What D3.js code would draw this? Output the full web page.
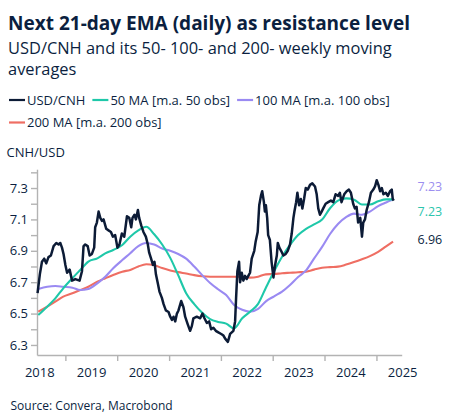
<!DOCTYPE html>
<html>
<head>
<meta charset="utf-8">
<script src="https://cdn.jsdelivr.net/npm/d3@7"></script>
<style>
  html, body { margin: 0; padding: 0; background: #fff; }
  svg { display: block; font-family: "Open Sans", "Noto Sans", sans-serif; }
</style>
</head>
<body>
<svg id="chart" width="453" height="417"></svg>
<script>
(function () {
  'use strict';

  // ── Data ─────────────────────────────────────────────────────────────────
  var usdcnhDates = [
    '2018-06-19','2018-07-05','2018-07-20','2018-08-05','2018-08-19','2018-09-04','2018-09-21','2018-10-10',
    '2018-10-29','2018-11-14','2018-11-26','2018-12-08','2018-12-19','2019-01-01','2019-01-13','2019-01-31',
    '2019-02-17','2019-03-12','2019-04-11','2019-04-28','2019-05-09','2019-05-21','2019-06-07','2019-06-21',
    '2019-07-07','2019-07-23','2019-07-30','2019-08-11','2019-08-23','2019-09-04','2019-09-16','2019-09-27',
    '2019-10-16','2019-11-01','2019-11-18','2019-12-02','2019-12-18','2020-01-03','2020-01-17','2020-02-03',
    '2020-02-20','2020-03-10','2020-03-26','2020-04-09','2020-04-18','2020-05-02','2020-05-12','2020-05-26',
    '2020-06-04','2020-06-19','2020-07-04','2020-07-21','2020-08-04','2020-08-13','2020-08-27','2020-09-09',
    '2020-09-20','2020-09-30','2020-10-14','2020-10-25','2020-11-11','2020-11-23','2020-12-09','2020-12-28',
    '2021-01-09','2021-01-21','2021-02-01','2021-02-13','2021-02-25','2021-03-08','2021-03-27','2021-04-12',
    '2021-04-24','2021-05-13','2021-05-29','2021-06-10','2021-06-21','2021-07-15','2021-08-08','2021-08-24',
    '2021-09-07','2021-09-24','2021-10-10','2021-10-24','2021-11-09','2021-11-26','2021-12-14','2022-01-03',
    '2022-01-19','2022-01-31','2022-02-19','2022-03-07','2022-03-30','2022-04-11','2022-04-18','2022-04-27',
    '2022-05-09','2022-05-16','2022-05-28','2022-06-08','2022-06-20','2022-07-02','2022-07-13','2022-07-25',
    '2022-08-06','2022-08-24','2022-09-03','2022-09-17','2022-09-28','2022-10-10','2022-10-19','2022-10-31',
    '2022-11-07','2022-11-14','2022-11-23','2022-11-30','2022-12-12','2022-12-24','2023-01-06','2023-01-18',
    '2023-01-30','2023-02-06','2023-02-17','2023-03-01','2023-03-17','2023-04-03','2023-04-17','2023-05-03',
    '2023-05-15','2023-05-27','2023-06-03','2023-06-15','2023-06-24','2023-07-06','2023-07-18','2023-07-29',
    '2023-08-10','2023-08-22','2023-09-05','2023-09-21','2023-10-07','2023-10-26','2023-11-07','2023-11-18',
    '2023-11-30','2023-12-12','2023-12-23','2024-01-09','2024-01-27','2024-02-15','2024-03-03','2024-03-19',
    '2024-04-06','2024-04-18','2024-04-30','2024-05-19','2024-06-05','2024-06-21','2024-07-05','2024-07-21',
    '2024-08-02','2024-08-14','2024-08-25','2024-09-09','2024-09-21','2024-09-30','2024-10-12','2024-10-24',
    '2024-11-09','2024-11-23','2024-12-10','2024-12-22','2025-01-03','2025-01-15','2025-01-27','2025-02-08',
    '2025-02-19','2025-03-08','2025-03-22','2025-04-07','2025-04-19','2025-04-26','2025-05-03'
  ];
  var usdcnhValues = [
    6.63, 6.75, 6.83, 6.85, 6.82, 6.86, 6.87, 6.93,
    6.95, 6.94, 6.95, 6.92, 6.88, 6.81, 6.76, 6.78,
    6.71, 6.72, 6.71, 6.77, 6.93, 6.94, 6.93, 6.87,
    6.88, 6.92, 7.05, 7.08, 7.15, 7.11, 7.09, 7.10,
    7.04, 7.03, 7.02, 6.99, 7.00, 6.92, 6.94, 7.01,
    6.99, 7.12, 7.11, 7.05, 7.11, 7.13, 7.10, 7.16,
    7.11, 7.06, 7.02, 6.99, 6.94, 6.89, 6.85, 6.81,
    6.83, 6.75, 6.69, 6.64, 6.60, 6.56, 6.52, 6.51,
    6.48, 6.46, 6.48, 6.45, 6.50, 6.52, 6.58, 6.54,
    6.48, 6.43, 6.39, 6.42, 6.47, 6.48, 6.47, 6.50,
    6.47, 6.44, 6.45, 6.40, 6.41, 6.39, 6.38, 6.37,
    6.36, 6.34, 6.32, 6.37, 6.39, 6.45, 6.60, 6.77,
    6.83, 6.70, 6.76, 6.71, 6.74, 6.72, 6.74, 6.76,
    6.85, 6.90, 6.96, 7.02, 7.19, 7.25, 7.28, 7.21,
    7.15, 7.19, 7.11, 7.00, 6.97, 6.83, 6.73, 6.81,
    6.87, 6.95, 6.92, 6.90, 6.87, 6.88, 6.90, 6.94,
    7.01, 7.11, 7.15, 7.21, 7.27, 7.19, 7.23, 7.17,
    7.23, 7.30, 7.29, 7.32, 7.33, 7.31, 7.26, 7.17,
    7.13, 7.15, 7.17, 7.20, 7.21, 7.22, 7.21, 7.26,
    7.25, 7.27, 7.21, 7.26, 7.28, 7.29, 7.27, 7.20,
    7.17, 7.18, 7.08, 7.11, 6.99, 7.08, 7.10, 7.16,
    7.21, 7.27, 7.29, 7.31, 7.35, 7.32, 7.28, 7.30,
    7.26, 7.27, 7.25, 7.28, 7.29, 7.23, 7.22
  ];

  // moving averages share one set of dates
  var maDates = [
    '2018-06-24','2018-08-26','2018-10-22','2018-12-17','2019-02-19','2019-04-16','2019-06-12','2019-08-14',
    '2019-10-09','2019-12-04','2020-02-06','2020-04-02','2020-05-29','2020-07-24','2020-09-18','2020-11-13',
    '2021-01-09','2021-03-06','2021-05-01','2021-06-27','2021-08-22','2021-10-17','2021-12-12','2022-02-07',
    '2022-04-04','2022-05-31','2022-07-25','2022-09-20','2022-11-14','2023-01-11','2023-03-08','2023-05-03',
    '2023-06-29','2023-08-24','2023-10-19','2023-12-15','2024-02-09','2024-04-05','2024-06-01','2024-07-27',
    '2024-09-21','2024-11-16','2025-01-13','2025-03-10','2025-04-28'
  ];
  var ma50Values = [
    6.491, 6.544, 6.597, 6.661, 6.725, 6.778, 6.831, 6.852,
    6.884, 6.905, 6.937, 6.990, 7.030, 7.053, 7.005, 6.940,
    6.855, 6.745, 6.630, 6.560, 6.505, 6.465, 6.447, 6.436,
    6.405, 6.470, 6.512, 6.562, 6.665, 6.770, 6.862, 6.937,
    7.000, 7.040, 7.068, 7.099, 7.171, 7.220, 7.234, 7.226,
    7.195, 7.195, 7.215, 7.228, 7.228
  ];
  var ma100Values = [
    6.657, 6.671, 6.676, 6.671, 6.665, 6.650, 6.657, 6.693,
    6.735, 6.789, 6.841, 6.884, 6.930, 6.950, 6.940, 6.915,
    6.900, 6.880, 6.850, 6.800, 6.745, 6.695, 6.655, 6.618,
    6.555, 6.524, 6.512, 6.530, 6.578, 6.610, 6.640, 6.682,
    6.733, 6.775, 6.850, 6.925, 7.007, 7.071, 7.114, 7.137,
    7.130, 7.150, 7.185, 7.208, 7.226
  ];
  var ma200Values = [
    6.512, 6.544, 6.576, 6.608, 6.629, 6.650, 6.671, 6.703,
    6.725, 6.746, 6.767, 6.778, 6.800, 6.814, 6.808, 6.790,
    6.775, 6.764, 6.755, 6.745, 6.738, 6.735, 6.735, 6.735,
    6.735, 6.733, 6.729, 6.735, 6.750, 6.752, 6.757, 6.760,
    6.763, 6.767, 6.780, 6.792, 6.796, 6.799, 6.812, 6.828,
    6.846, 6.866, 6.893, 6.928, 6.958
  ];

  var seriesNames  = ['USD/CNH', '50 MA [m.a. 50 obs]', '100 MA [m.a. 100 obs]', '200 MA [m.a. 200 obs]'];
  var seriesColors = ['#0c1b36', '#1ec8a9', '#9a8af2', '#ef6e63'];
  var yMajorTicks  = [6.3, 6.5, 6.7, 6.9, 7.1, 7.3];
  var yMinorTicks  = [6.4, 6.6, 6.8, 7.0, 7.2, 7.4];
  var yearTicks    = ['2019','2020','2021','2022','2023','2024','2025'];
  var yearLabels   = ['2018','2019','2020','2021','2022','2023','2024','2025'];

  // ── Setup ────────────────────────────────────────────────────────────────
  var parse = d3.utcParse('%Y-%m-%d');
  var ink   = '#0b1f3f';
  var svg   = d3.select('#chart');

  function zip(dates, values) {
    return dates.map(function (d, i) { return { date: parse(d), value: values[i] }; });
  }
  var series = [
    zip(usdcnhDates, usdcnhValues),
    zip(maDates, ma50Values),
    zip(maDates, ma100Values),
    zip(maDates, ma200Values)
  ];

  var x = d3.scaleUtc()
    .domain([parse('2018-06-15'), parse('2025-06-28')])
    .range([37, 401.7]);
  var y = d3.scaleLinear()
    .domain([6.236, 7.42])
    .range([355, 169.2]);

  // fit a text element to a target width by scaling its font size
  function fitWidth(sel, target) {
    var node = sel.node();
    var fs = parseFloat(sel.attr('font-size'));
    var w = node.getComputedTextLength();
    if (w > 0) sel.attr('font-size', (fs * target / w).toFixed(2));
  }

  // ── Titles ───────────────────────────────────────────────────────────────
  var title = svg.append('text')
    .attr('x', 8).attr('y', 29.5)
    .attr('font-size', 18).attr('font-weight', 700).attr('fill', ink)
    .text('Next 21-day EMA (daily) as resistance level');
  fitWidth(title, 402);

  var sub1 = svg.append('text')
    .attr('x', 8).attr('y', 54)
    .attr('font-size', 16).attr('fill', ink)
    .text('USD/CNH and its 50- 100- and 200- weekly moving');
  fitWidth(sub1, 384);
  svg.append('text')
    .attr('x', 8).attr('y', 75)
    .attr('font-size', sub1.attr('font-size')).attr('fill', ink)
    .text('averages');

  // ── Legend ───────────────────────────────────────────────────────────────
  var legend = svg.append('g');
  var lx = 9, ly = 100;
  seriesNames.forEach(function (name, i) {
    var item = legend.append('g');
    item.append('line')
      .attr('x1', 0).attr('x2', 16).attr('y1', 0).attr('y2', 0)
      .attr('stroke', seriesColors[i]).attr('stroke-width', 2.2);
    var t = item.append('text')
      .attr('x', 18).attr('y', 4.6)
      .attr('font-size', 13).attr('fill', ink)
      .text(name);
    var w = 18 + t.node().getComputedTextLength();
    if (lx + w > 445) { lx = 9; ly += 22.5; }
    item.attr('transform', 'translate(' + lx + ',' + ly + ')');
    lx += w + 7;
  });

  // ── Axes ─────────────────────────────────────────────────────────────────
  svg.append('text')
    .attr('x', 6.5).attr('y', 156.5)
    .attr('font-size', 13).attr('fill', ink)
    .text('CNH/USD');

  var yAxis = svg.append('g')
    .attr('transform', 'translate(37,0)')
    .call(d3.axisLeft(y)
      .tickValues(yMajorTicks.concat(yMinorTicks))
      .tickFormat(function (v) { return yMajorTicks.indexOf(v) >= 0 ? d3.format('.1f')(v) : ''; })
      .tickSize(6).tickSizeOuter(0).tickPadding(3));

  var xAxis = svg.append('g')
    .attr('transform', 'translate(0,355)')
    .call(d3.axisBottom(x)
      .tickValues(yearTicks.map(function (yr) { return parse(yr + '-01-01'); }))
      .tickFormat('').tickSize(6).tickSizeOuter(0));

  var xLabels = svg.append('g')
    .attr('transform', 'translate(0,355)')
    .call(d3.axisBottom(x)
      .tickValues(yearLabels.map(function (yr) { return parse(yr + '-07-01'); }))
      .tickFormat(d3.utcFormat('%Y')).tickSize(0).tickPadding(13));
  xLabels.select('.domain').remove();

  [yAxis, xAxis, xLabels].forEach(function (g) {
    g.selectAll('.domain, .tick line').attr('stroke', '#b3b3b3').attr('stroke-width', 1.4);
    g.selectAll('.tick text')
      .attr('font-size', 13).attr('fill', ink)
      .attr('font-family', '"Open Sans", "Noto Sans", sans-serif');
  });

  // ── Lines ────────────────────────────────────────────────────────────────
  var line = d3.line()
    .x(function (d) { return x(d.date); })
    .y(function (d) { return y(d.value); });
  var smooth = d3.line()
    .curve(d3.curveMonotoneX)
    .x(function (d) { return x(d.date); })
    .y(function (d) { return y(d.value); });

  var drawOrder = [3, 2, 1, 0];
  svg.append('g').selectAll('path')
    .data(drawOrder)
    .join('path')
    .attr('d', function (i) { return i === 0 ? line(series[i]) : smooth(series[i]); })
    .attr('fill', 'none')
    .attr('stroke', function (i) { return seriesColors[i]; })
    .attr('stroke-width', function (i) { return i === 0 ? 2.5 : 2.1; })
    .attr('stroke-linejoin', 'round');

  // ── End labels ───────────────────────────────────────────────────────────
  var endLabels = [
    { idx: 2, color: '#9c8ef0', dy: -8.3 },
    { idx: 1, color: '#2cc5ad', dy: 16.5 },
    { idx: 3, color: ink,       dy: 2.3 }
  ];
  svg.append('g').selectAll('text')
    .data(endLabels)
    .join('text')
    .attr('x', 417.5)
    .attr('y', function (d) {
      var s = series[d.idx];
      return y(s[s.length - 1].value) + d.dy;
    })
    .attr('font-size', 12.5)
    .attr('fill', function (d) { return d.color; })
    .text(function (d) {
      var s = series[d.idx];
      return d3.format('.2f')(s[s.length - 1].value);
    });

  // ── Source ───────────────────────────────────────────────────────────────
  svg.append('text')
    .attr('x', 10.5).attr('y', 409.5)
    .attr('font-size', 12).attr('fill', ink)
    .text('Source: Convera, Macrobond');
})();
</script>
</body>
</html>
